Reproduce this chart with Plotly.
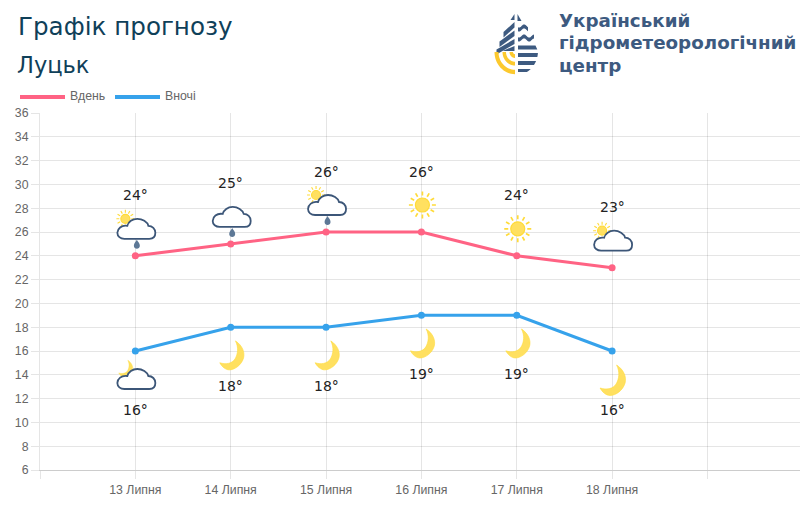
import math
import plotly.graph_objects as go

# Forecast data
dates = ["13 Липня", "14 Липня", "15 Липня", "16 Липня", "17 Липня", "18 Липня"]
day_temps = [24, 25, 26, 26, 24, 23]
night_temps = [16, 18, 18, 19, 19, 16]
day_icons = ["sun_cloud_rain", "cloud_rain", "sun_cloud_rain", "sun", "sun", "sun_cloud"]
night_icons = ["moon_cloud", "moon", "moon", "moon", "moon", "moon_large"]
y_ticks = list(range(6, 37, 2))

# Page geometry, in pixels
W, H = 800, 529
LEFT, RIGHT, TOP, BOTTOM = 40, 800, 113, 470
PINK, BLUE = "#ff6384", "#36a2eb"
NAVY = "#0f4059"
LOGO_BLUE = "#3d5a80"
GRID = "rgba(0,0,0,0.1)"
SUN_FILL, SUN_LINE = "#ffe060", "#ffdb3a"
CLOUD_LINE = "#3c5678"
DROP = "#5d7896"


def px(x):
    return (x - LEFT) / (RIGHT - LEFT)


def py(y):
    return (BOTTOM - y) / (BOTTOM - TOP)


shapes = []
annotations = []


def local_path(segs, dx=0.0, dy=0.0, s=1.0):
    """Path string in pixel offsets around an anchor (y flips so that + means up)."""
    out = []
    for cmd, pts in segs:
        out.append(cmd + " ".join(f"{dx + s * a:.2f},{-(dy + s * b):.2f}" for a, b in pts))
    return " ".join(out) + " Z"


def anchored(path, i, value, fill, line=None, width=0):
    shapes.append(dict(
        type="path", path=path, xref="x", yref="y",
        xsizemode="pixel", ysizemode="pixel", xanchor=i, yanchor=value,
        fillcolor=fill, line=dict(color=line or "rgba(0,0,0,0)", width=width), layer="above",
    ))


CLOUD = [
    ("M", [(-12, 10)]), ("L", [(13, 10)]),
    ("C", [(17, 10), (19, 7.5), (19, 4)]),
    ("C", [(19, 0), (16, -3), (12, -3)]),
    ("C", [(11, -7), (6, -10), (1, -10)]),
    ("C", [(-4, -10), (-8, -7), (-9, -3)]),
    ("C", [(-15, -4), (-19, 0), (-19, 4)]),
    ("C", [(-19, 7.5), (-16, 10), (-12, 10)]),
]
DROPLET = [
    ("M", [(0, -5)]),
    ("C", [(1, -3), (3, -1.5), (3, 1)]),
    ("C", [(3, 3), (1.5, 4), (0, 4)]),
    ("C", [(-1.5, 4), (-3, 3), (-3, 1)]),
    ("C", [(-3, -1.5), (-1, -3), (0, -5)]),
]
MOON = [
    ("M", [(4.5, -14)]),
    ("C", [(12, -9), (14.5, -2), (13, 4)]),
    ("C", [(11, 11), (4, 16.5), (-2, 16.5)]),
    ("C", [(-6, 16.5), (-10, 13), (-12, 9)]),
    ("C", [(-6, 11), (1, 10), (4, 5)]),
    ("C", [(7, 0), (8, -7), (4.5, -14)]),
]


def disc(i, v, cx, cy, r, fill, line, width):
    k = 0.5523 * r
    segs = [
        ("M", [(cx + r, cy)]),
        ("C", [(cx + r, cy + k), (cx + k, cy + r), (cx, cy + r)]),
        ("C", [(cx - k, cy + r), (cx - r, cy + k), (cx - r, cy)]),
        ("C", [(cx - r, cy - k), (cx - k, cy - r), (cx, cy - r)]),
        ("C", [(cx + k, cy - r), (cx + r, cy - k), (cx + r, cy)]),
    ]
    anchored(local_path(segs), i, v, fill, line, width)


def sun(i, v, cx, cy, r, r0, r1, width):
    for n in range(12):
        a = n * math.pi / 6
        ray = [("M", [(cx + r0 * math.cos(a), cy + r0 * math.sin(a))]),
               ("L", [(cx + r1 * math.cos(a), cy + r1 * math.sin(a))])]
        anchored(local_path(ray), i, v, "rgba(0,0,0,0)", SUN_LINE, width)
    disc(i, v, cx, cy, r, SUN_FILL, SUN_LINE, 1.2)


def draw_icon(kind, i, v, off):
    cx, cy = 1, off
    if kind == "sun":
        sun(i, v, cx, cy, 7, 9.5, 13.5, 1.7)
        return
    if kind == "moon":
        anchored(local_path(MOON, cx - 0.5, cy - 1, 0.95), i, v, SUN_FILL, SUN_LINE, 0.6)
        return
    if kind == "moon_large":
        anchored(local_path(MOON, cx - 1, cy), i, v, SUN_FILL, SUN_LINE, 0.6)
        return
    if kind.startswith("sun_cloud"):
        sun(i, v, cx - 11, cy - 10, 4.5, 6, 9, 1.1)
    if kind == "moon_cloud":
        anchored(local_path(MOON, cx - 11, cy - 11, 0.55), i, v, SUN_FILL, SUN_LINE, 0.4)
    anchored(local_path(CLOUD, cx, cy), i, v, "white", CLOUD_LINE, 1.8)
    if kind.endswith("rain"):
        anchored(local_path(DROPLET, cx + 0.5, cy + 16), i, v, DROP)


def page_text(text, x, y, size, color, family, anchor="left", weight=None):
    font = dict(size=size, color=color, family=family)
    if weight:
        font["weight"] = weight
    annotations.append(dict(
        text=text, x=px(x), y=py(y), xref="paper", yref="paper", showarrow=False,
        xanchor=anchor, yanchor="middle", font=font,
    ))


def page_path(points, fill):
    d = "M" + " L".join(f"{px(a):.5f},{py(b):.5f}" for a, b in points) + " Z"
    shapes.append(dict(type="path", path=d, xref="paper", yref="paper",
                       fillcolor=fill, line=dict(width=0), layer="above"))


def page_line(x0, x1, y, color, width):
    shapes.append(dict(type="line", x0=px(x0), x1=px(x1), y0=py(y), y1=py(y),
                       xref="paper", yref="paper", line=dict(color=color, width=width)))


# Agency emblem: a drop split into diagonal, wavy, straight and arc stripes
LOGO_X, LOGO_Y = 516.5, 51


def half_width(y):
    if y < LOGO_Y:
        t = (LOGO_Y - y) / 38
        return 21.5 * (1 - t) ** 0.8
    t = min((y - LOGO_Y) / 24, 1)
    return 21.5 * math.sqrt(1 - t * t)


def right_band(y0, y1):
    steps = [y0 + (y1 - y0) * k / 4 for k in range(5)]
    pts = [(LOGO_X + 1.5, y0)] + [(LOGO_X + half_width(b), b) for b in steps] + [(LOGO_X + 1.5, y1)]
    page_path(pts, LOGO_BLUE)


def wave(y, span):
    top = []
    n = 24
    for k in range(n + 1):
        x = LOGO_X + 1.5 + span * k / n
        top.append((x, y + 1.6 * math.sin((x - LOGO_X) * 0.62)))
    page_path(top + [(a, b + 4) for a, b in reversed(top)], LOGO_BLUE)


def diagonal(x0, y0, x1, y1, t):
    page_path([(x0, y0), (x1, y1), (x1, y1 + t), (x0, y0 + t)], LOGO_BLUE)


def arc_band(r0, r1):
    angles = [math.pi / 2 + (math.pi / 2) * k / 16 for k in range(17)]
    outer = [(LOGO_X - 1.5 + r1 * math.cos(a), LOGO_Y + 1 + r1 * 1.08 * math.sin(a)) for a in angles]
    inner = [(LOGO_X - 1.5 + r0 * math.cos(a), LOGO_Y + 1 + r0 * 1.08 * math.sin(a)) for a in reversed(angles)]
    page_path(outer + inner, "#fcc92e")


page_path([(LOGO_X + 1, 14), (LOGO_X + 5, 21), (LOGO_X + 1, 21)], LOGO_BLUE)
page_path([(LOGO_X - 2, 14), (LOGO_X - 2, 20), (LOGO_X - 6, 20)], LOGO_BLUE)
wave(26, 10)
wave(36, 16)
right_band(45.5, 49.5)
right_band(53, 57)
right_band(61, 65)
right_band(69, 72)
diagonal(LOGO_X - 2, 22, LOGO_X - 13, 32, 5.5)
diagonal(LOGO_X - 2, 30.5, LOGO_X - 17, 41.5, 5.5)
diagonal(LOGO_X - 2, 39, LOGO_X - 20, 49.5, 5)
page_path([(LOGO_X - 14, 51), (LOGO_X - 2, 51), (LOGO_X - 2, 46)], LOGO_BLUE)
arc_band(16.5, 20.5)
arc_band(9, 12.5)
arc_band(2, 5.5)

# Heading and emblem caption
HEAD_FONT = "'DejaVu Sans', sans-serif"
page_text("Графік прогнозу", 16, 27, 24.6, NAVY, HEAD_FONT)
page_text("Луцьк", 15, 65, 22.5, NAVY, HEAD_FONT)
page_text("<b>Український</b>", 557, 20, 18.3, LOGO_BLUE, HEAD_FONT)
page_text("<b>гідрометеорологічний</b>", 557, 42.5, 18.3, LOGO_BLUE, HEAD_FONT)
page_text("<b>центр</b>", 557, 65, 18.3, LOGO_BLUE, HEAD_FONT)

# Legend
AXIS_FONT = "'Liberation Sans', Arial, sans-serif"
page_line(20, 65, 97, PINK, 4)
page_text("Вдень", 68, 96.5, 12.3, "#666666", AXIS_FONT)
page_line(115, 160, 97, BLUE, 4)
page_text("Вночі", 163, 96.5, 12.3, "#666666", AXIS_FONT)

positions = list(range(len(dates)))

fig = go.Figure()
for name, temps, color in (("Вдень", day_temps, PINK), ("Вночі", night_temps, BLUE)):
    fig.add_trace(go.Scatter(
        x=positions, y=temps, name=name, mode="lines+markers", showlegend=False,
        line=dict(color=color, width=3), marker=dict(color=color, size=7),
    ))

# Weather pictograms and temperature captions follow each point
for i, (temp, kind) in enumerate(zip(day_temps, day_icons)):
    draw_icon(kind, i, temp, -27)
    annotations.append(dict(x=i, y=temp, text=f"{temp}°", showarrow=False, yshift=60.5,
                            font=dict(size=14, color="#222222", family=HEAD_FONT)))
for i, (temp, kind) in enumerate(zip(night_temps, night_icons)):
    draw_icon(kind, i, temp, 28)
    annotations.append(dict(x=i, y=temp, text=f"{temp}°", showarrow=False, yshift=-59,
                            font=dict(size=14, color="#222222", family=HEAD_FONT)))

# Blank ticks either side of the dates keep the outer grid lines
x_ticks = [-1] + positions + [len(dates)]
x_labels = [""] + dates + [""]

fig.update_layout(
    width=W, height=H, autosize=False,
    margin=dict(l=LEFT, r=W - RIGHT, t=TOP, b=H - BOTTOM),
    paper_bgcolor="white", plot_bgcolor="white", showlegend=False,
    shapes=shapes, annotations=annotations,
    xaxis=dict(
        range=[-1, -1 + (RIGHT - LEFT) / 95.35], tickmode="array", tickvals=x_ticks, ticktext=x_labels,
        showgrid=True, gridcolor=GRID, gridwidth=1, zeroline=False,
        showline=True, linecolor="rgba(0,0,0,0.2)", linewidth=1,
        ticks="outside", ticklen=8, tickcolor=GRID, tickwidth=1,
        tickfont=dict(size=12.3, color="#666666", family=AXIS_FONT),
    ),
    yaxis=dict(
        range=[6, 36], tickmode="array", tickvals=y_ticks, ticktext=[str(t) for t in y_ticks],
        showgrid=True, gridcolor=GRID, gridwidth=1, zeroline=False,
        showline=True, linecolor=GRID, linewidth=1,
        ticks="outside", ticklen=8, tickcolor=GRID, tickwidth=1,
        tickfont=dict(size=12.3, color="#666666", family=AXIS_FONT),
    ),
)

fig.write_html("out.html", config=dict(displayModeBar=False))
